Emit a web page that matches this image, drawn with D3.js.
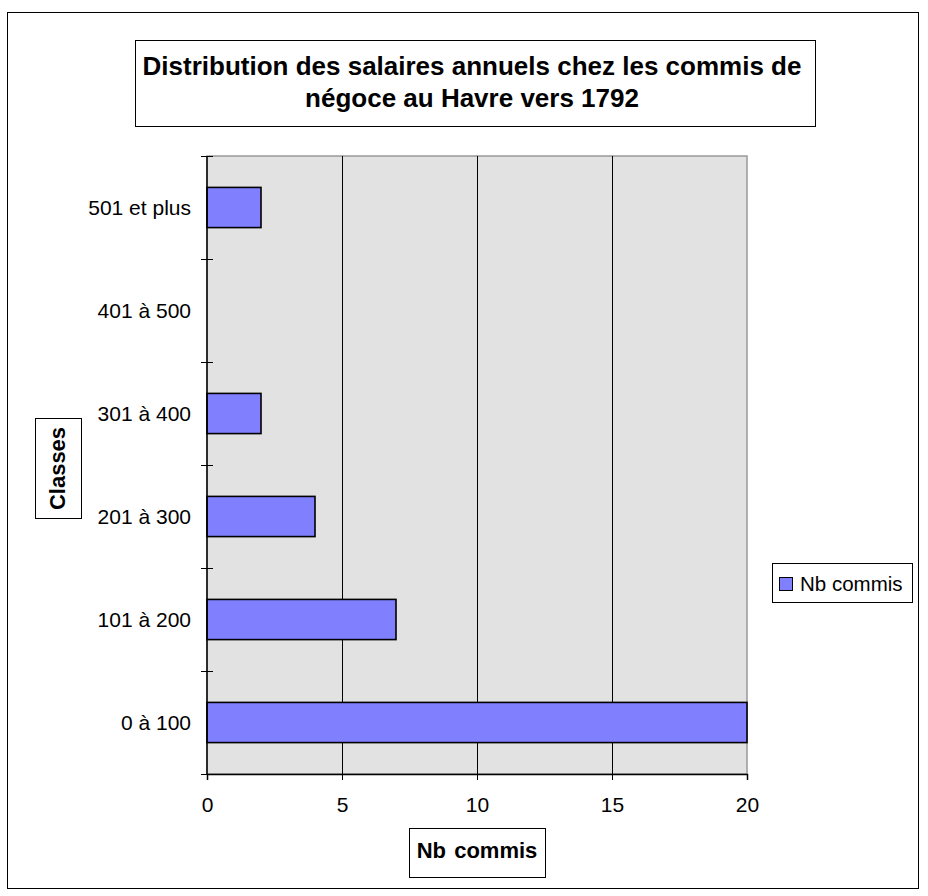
<!DOCTYPE html>
<html>
<head>
<meta charset="utf-8">
<script src="https://cdn.jsdelivr.net/npm/d3@7"></script>
<style>
  body { margin: 0; background: #fff; }
  text { font-family: "Liberation Sans", Arial, sans-serif; fill: #000; }
</style>
</head>
<body>
<div id="chart"></div>
<script>
const categories = ["0 à 100", "101 à 200", "201 à 300", "301 à 400", "401 à 500", "501 et plus"];
const nbCommis = [20, 7, 4, 2, 0, 2];
const xTicks = [0, 5, 10, 15, 20];
const titleLines = ["Distribution des salaires annuels chez les commis de", "négoce au Havre vers 1792"];
const seriesName = "Nb commis";

const width = 928;
const height = 896;

const plot = { left: 207, top: 156, right: 747, bottom: 774 };

let svg = d3.select("#chart")
    .append("svg")
    .attr("width", width)
    .attr("height", height);

// outer frame
svg.append("rect")
    .attr("x", 7.5).attr("y", 12.5)
    .attr("width", 911).attr("height", 876)
    .attr("fill", "#fff")
    .attr("stroke", "#000")
    .attr("stroke-width", 1);

// title box
svg.append("rect")
    .attr("x", 135.5).attr("y", 40.5)
    .attr("width", 680).attr("height", 86)
    .attr("fill", "#fff")
    .attr("stroke", "#000");

svg.selectAll("text.title")
    .data(titleLines)
    .join("text")
    .classed("title", true)
    .attr("x", 472)
    .attr("y", (d, i) => 75 + i * 32)
    .attr("text-anchor", "middle")
    .style("font-size", "26px")
    .style("font-weight", "bold")
    .text(d => d);

let xScale = d3.scaleLinear()
    .domain([0, 20])
    .range([plot.left, plot.right]);

let yScale = d3.scaleBand()
    .domain(categories.slice().reverse())
    .range([plot.top, plot.bottom]);

// plot background
svg.append("rect")
    .attr("x", plot.left).attr("y", plot.top)
    .attr("width", plot.right - plot.left)
    .attr("height", plot.bottom - plot.top)
    .attr("fill", "#e2e2e2")
    .attr("stroke", "#999")
    .attr("stroke-width", 1.5);

// vertical gridlines
svg.selectAll("line.grid")
    .data(xTicks.filter(d => d > 0 && d < 20))
    .join("line")
    .classed("grid", true)
    .attr("x1", d => Math.round(xScale(d)) + 0.5)
    .attr("x2", d => Math.round(xScale(d)) + 0.5)
    .attr("y1", plot.top)
    .attr("y2", plot.bottom)
    .attr("stroke", "#000");

// bars
const barH = yScale.bandwidth() * 0.39;
svg.selectAll("rect.bar")
    .data(categories.map((c, i) => ({ cat: c, v: nbCommis[i] })).filter(d => d.v > 0))
    .join("rect")
    .classed("bar", true)
    .attr("x", xScale(0))
    .attr("y", d => yScale(d.cat) + (yScale.bandwidth() - barH) / 2)
    .attr("width", d => xScale(d.v) - xScale(0))
    .attr("height", barH)
    .attr("fill", "#8080ff")
    .attr("stroke", "#000")
    .attr("stroke-width", 1.6);

// x axis
let xAxis = d3.axisBottom(xScale)
    .tickValues(xTicks)
    .tickSize(6)
    .tickPadding(17)
    .tickFormat(d3.format("d"));

let gx = svg.append("g")
    .attr("transform", `translate(0, ${plot.bottom})`)
    .call(xAxis);
gx.select(".domain").attr("stroke", "#000").attr("stroke-width", 1.5);
gx.selectAll(".tick line").attr("stroke", "#000");
gx.selectAll(".tick text").style("font-size", "21px").attr("fill", "#000");

// y axis: category labels, ticks at band boundaries crossing the axis
svg.append("line")
    .attr("x1", plot.left).attr("x2", plot.left)
    .attr("y1", plot.top).attr("y2", plot.bottom)
    .attr("stroke", "#000").attr("stroke-width", 1.5);

let boundaries = categories.map(c => yScale(c)).concat([plot.bottom]);
svg.selectAll("line.ytick")
    .data(boundaries)
    .join("line")
    .classed("ytick", true)
    .attr("x1", plot.left - 6).attr("x2", plot.left + 6)
    .attr("y1", d => Math.round(d) + 0.5).attr("y2", d => Math.round(d) + 0.5)
    .attr("stroke", "#000");

svg.selectAll("text.ylabel")
    .data(categories)
    .join("text")
    .classed("ylabel", true)
    .attr("x", 191)
    .attr("y", d => yScale(d) + yScale.bandwidth() / 2)
    .attr("dy", "0.36em")
    .attr("text-anchor", "end")
    .style("font-size", "21px")
    .text(d => d);

// y axis title box
svg.append("rect")
    .attr("x", 35.5).attr("y", 418.5)
    .attr("width", 46).attr("height", 100)
    .attr("fill", "#fff").attr("stroke", "#000");
svg.append("text")
    .attr("transform", "translate(57, 468.5) rotate(-90)")
    .attr("text-anchor", "middle")
    .attr("dy", "0.36em")
    .style("font-size", "22px")
    .style("font-weight", "bold")
    .text("Classes");

// x axis title box
svg.append("rect")
    .attr("x", 409.5).attr("y", 828.5)
    .attr("width", 136).attr("height", 49)
    .attr("fill", "#fff").attr("stroke", "#000");
svg.append("text")
    .attr("x", 477)
    .attr("y", 850)
    .attr("dy", "0.36em")
    .attr("text-anchor", "middle")
    .attr("word-spacing", "2px")
    .style("font-size", "22px")
    .style("font-weight", "bold")
    .text(seriesName);

// legend
let legend = svg.append("g").attr("transform", "translate(772, 563)");
legend.append("rect")
    .attr("x", 0.5).attr("y", 0.5)
    .attr("width", 140).attr("height", 39)
    .attr("fill", "#fff").attr("stroke", "#000");
legend.append("rect")
    .attr("x", 7.5).attr("y", 14.5)
    .attr("width", 13).attr("height", 13)
    .attr("fill", "#8080ff").attr("stroke", "#000");
legend.append("text")
    .attr("x", 28)
    .attr("y", 21)
    .attr("dy", "0.36em")
    .style("font-size", "20.5px")
    .text(seriesName);
</script>
</body>
</html>
